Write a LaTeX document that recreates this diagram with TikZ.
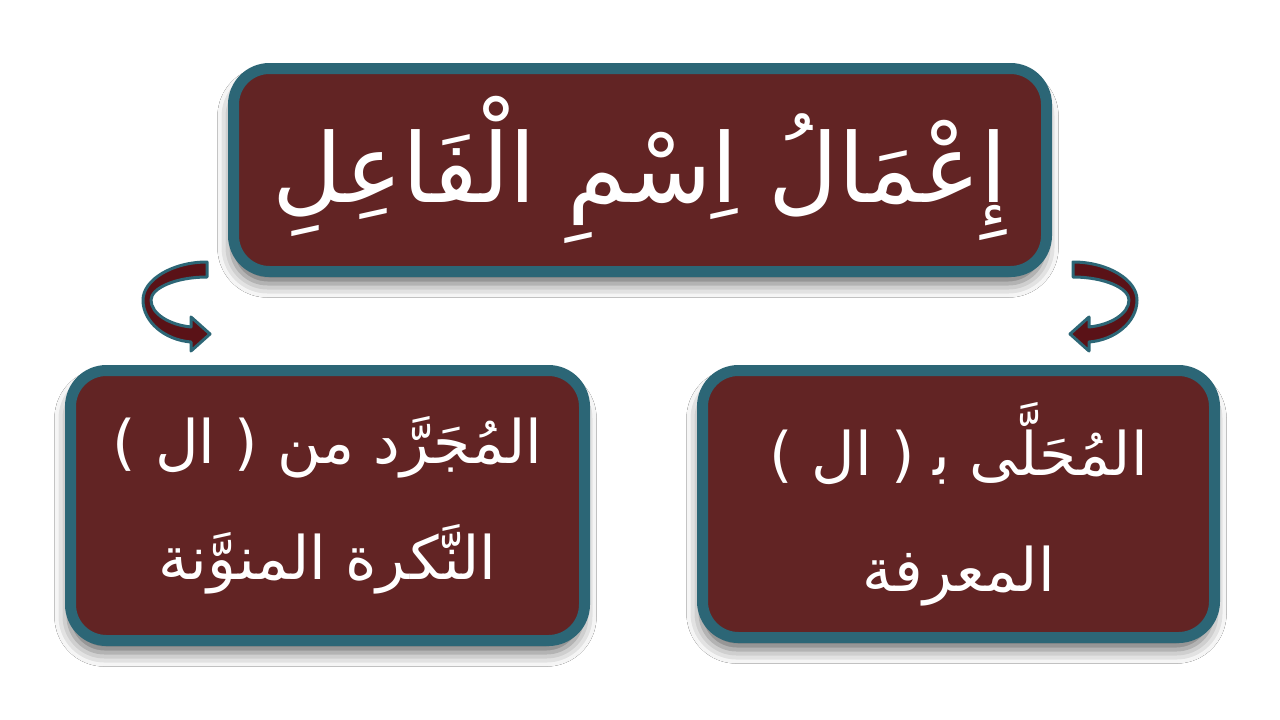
\documentclass[tikz,border=0pt]{standalone}
\usepackage{fontspec}
\newfontfamily\arabicfont[Script=Arabic]{DejaVu Sans}
\newfontfamily\plainfont{DejaVu Sans}
\TeXXeTstate=1
\usetikzlibrary{shadows.blur}
\definecolor{boxfill}{HTML}{622424}
\definecolor{boxedge}{HTML}{2C6676}
\definecolor{arrowfill}{HTML}{5A1217}
\newcommand{\lpar}{{\plainfont )}}
\newcommand{\rpar}{{\plainfont (}}
\tikzset{
  box/.style={draw=boxedge, fill=boxfill, line width=11pt, rounded corners=36pt,
    inner sep=0pt, text=white, align=center,
    blur shadow={shadow xshift=-2pt, shadow yshift=-12pt, shadow blur radius=14pt, shadow opacity=60}},
  curvarrow/.style={fill=arrowfill, draw=boxedge, line width=3pt, line join=round},
  titletext/.style={font=\fontsize{96}{110}\selectfont\arabicfont},
  subtext/.style={font=\fontsize{60}{116}\selectfont\arabicfont}
}
\begin{document}
\begin{tikzpicture}[x=1pt,y=-1pt]
\useasboundingbox[fill=white] (0,0) rectangle (1280,720);
\node[box, titletext, minimum width=813pt, minimum height=203pt] (top) at (640,170)
  {\raisebox{-12pt}{\beginR إِعْمَالُ اِسْمِ الْفَاعِلِ\endR}};
\node[box, subtext, minimum width=514pt, minimum height=270pt] (left) at (327.5,505.5)
  {\beginR المُجَرَّد من \lpar{} ال \rpar\endR\\ \beginR النَّكرة المنوَّنة\endR};
\node[box, subtext, minimum width=512pt, minimum height=267pt] (right) at (958.5,504)
  {\beginR المُحَلَّى ب‍ \lpar{} ال \rpar\endR\\ \beginR المعرفة\endR};
\draw[curvarrow] (207,262) .. controls (172,262) and (143,280) .. (143,300)
  .. controls (143,322) and (165,340) .. (191,342) -- (191,351) -- (210,334)
  -- (191,317) -- (191,327) .. controls (170,325) and (151,314) .. (151,300)
  .. controls (151,288) and (176,277) .. (207,277) -- cycle;
\begin{scope}[xshift=1280pt, xscale=-1]
\draw[curvarrow] (207,262) .. controls (172,262) and (143,280) .. (143,300)
  .. controls (143,322) and (165,340) .. (191,342) -- (191,351) -- (210,334)
  -- (191,317) -- (191,327) .. controls (170,325) and (151,314) .. (151,300)
  .. controls (151,288) and (176,277) .. (207,277) -- cycle;
\end{scope}
\end{tikzpicture}
\end{document}
